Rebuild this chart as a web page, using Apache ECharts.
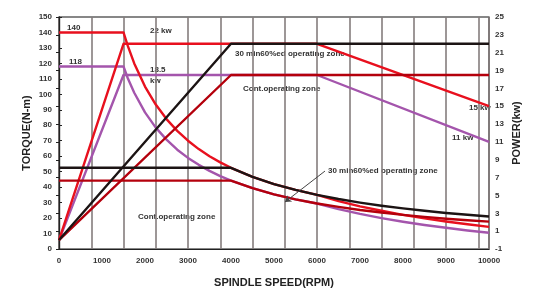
<!DOCTYPE html>
<html><head><meta charset="utf-8">
<script src="https://cdn.jsdelivr.net/npm/echarts@6/dist/echarts.min.js"></script>
<style>html,body{margin:0;padding:0;background:#fff}#c{width:548px;height:290px}</style>
</head><body><div id="c"></div>
<script>
// Speed (rpm) tick labels
var xTicks = [0,1000,2000,3000,4000,5000,6000,7000,8000,9000,10000];
// Torque curves (N-m) : [rpm, torque]
var torqueS6_22 = [[0,140],[1500,140],[1600,131.3],[1750,120],[2000,105],[2250,93.4],[2500,84],[2750,76.4],[3000,70],[3250,64.6],[3500,60],[3750,56],[4000,52.5],[4500,46.7],[5000,42],[5500,38.2],[6000,35],[6500,31],[7000,27.6],[7500,24.7],[8000,22.1],[8500,19.8],[9000,17.8],[9500,16],[10000,14.3]];
var torqueS1_185 = [[0,118],[1500,118],[1600,110.4],[1750,101],[2000,88.3],[2250,78.5],[2500,70.7],[2750,64.2],[3000,58.9],[3250,54.4],[3500,50.5],[3750,47.1],[4000,44.2],[4500,39.3],[5000,35.3],[5500,32.1],[6000,29.4],[6500,25.8],[7000,22.7],[7500,20],[8000,17.6],[8500,15.5],[9000,13.7],[9500,12],[10000,10.5]];
var torqueHigh_22 = [[0,52.5],[4000,52.5],[4500,46.7],[5000,42],[5500,38.2],[6000,35],[6500,32.3],[7000,30],[7500,28],[8000,26.3],[8500,24.7],[9000,23.3],[9500,22.1],[10000,21]];
var torqueHigh_185 = [[0,44.2],[4000,44.2],[4500,39.3],[5000,35.3],[5500,32.1],[6000,29.4],[6500,27.2],[7000,25.2],[7500,23.6],[8000,22.1],[8500,20.8],[9000,19.6],[9500,18.6],[10000,17.7]];
// Power curves (kW) : [rpm, power]
var powerS6_22 = [[0,0],[1500,22],[6000,22],[10000,15]];
var powerS1_185 = [[0,0],[1500,18.5],[6000,18.5],[10000,11]];
var powerHigh_22 = [[0,0],[4000,22],[10000,22]];
var powerHigh_185 = [[0,0],[4000,18.5],[10000,18.5]];
// annotation arrow (rpm, torque)
var arrowFrom = [6186,50.4], arrowTo = [5256,30.4];

var RED='#e8101e', PURPLE='#a455ac', BLACK='#1c1414', DRED='#b4000c';
var FONT='Liberation Sans';
var lw=2.4;
function line(name,data,color,yIdx,extra){
  var s={name:name,type:'line',data:data,xAxisIndex:0,yAxisIndex:yIdx,symbol:'none',smooth:false,
    lineStyle:{color:color,width:lw,join:'round'},itemStyle:{color:color},silent:true,animation:false};
  if(extra) for(var k in extra) s[k]=extra[k];
  return s;
}
var tl={fontFamily:FONT,fontWeight:'bold',fontSize:8,color:'#333'};
var nameStyle={fontFamily:FONT,fontWeight:'bold',fontSize:11,color:'#222'};
function txt(x,y,s){return {type:'text',left:x,top:y,style:{text:s,font:'bold 8px "'+FONT+'"',fill:'#333'}};}
var chart=echarts.init(document.getElementById('c'));
chart.setOption({
  animation:false,
  grid:{left:59,right:59,top:17,bottom:41,show:true,borderColor:'#111',borderWidth:1.2,outerBoundsMode:'none',containLabel:false},
  xAxis:[{type:'value',min:0,max:10000,interval:1000,
      name:'SPINDLE SPEED(RPM)',nameLocation:'middle',nameGap:28,nameTextStyle:nameStyle,
      axisLine:{show:true,lineStyle:{color:'#222',width:1.2}},axisTick:{show:false},
      axisLabel:Object.assign({margin:8,formatter:function(v){return String(v);}},tl),splitLine:{show:false}},
    {type:'value',min:0,max:10000,interval:750,position:'bottom',
      axisLine:{show:false},axisTick:{show:false},axisLabel:{show:false},
      splitLine:{show:true,lineStyle:{color:'#857d7d',width:1.6}}}],
  yAxis:[{type:'value',min:0,max:150,interval:10,
      name:'TORQUE(N-m)',nameLocation:'middle',nameGap:27,nameRotate:90,nameMoveOverlap:false,nameTextStyle:nameStyle,
      axisLine:{show:true,lineStyle:{color:'#222',width:1.2}},
      axisTick:{show:true,inside:true,length:3,lineStyle:{color:'#222'}},
      axisLabel:Object.assign({margin:7},tl),splitLine:{show:false}},
    {type:'value',min:-1,max:25,interval:2,position:'right',
      name:'POWER(kw)',nameLocation:'middle',nameGap:22,nameRotate:90,nameMoveOverlap:false,nameTextStyle:nameStyle,
      axisLine:{show:true,lineStyle:{color:'#222',width:1.2}},
      axisTick:{show:true,inside:true,length:3,lineStyle:{color:'#222'}},
      axisLabel:Object.assign({margin:6},tl),splitLine:{show:false}}],
  series:[
    line('p185',powerS1_185,PURPLE,1),
    line('t185',torqueS1_185,PURPLE,0),
    line('p22',powerS6_22,RED,1),
    line('t22',torqueS6_22,RED,0),
    line('ph185',powerHigh_185,DRED,1),
    line('th185',torqueHigh_185,DRED,0),
    line('ph22',powerHigh_22,BLACK,1),
    line('th22',torqueHigh_22,BLACK,0,{markLine:{silent:true,symbol:['none','arrow'],symbolSize:6,
      label:{show:false},lineStyle:{color:'#444',width:1,type:'solid'},
      data:[[{coord:arrowFrom},{coord:arrowTo}]]}})
  ],
  graphic:[
    txt(67,24,'140'),
    txt(69,58,'118'),
    txt(150,27,'22 kw'),
    txt(150,66,'18.5'),
    txt(150,77,'kw'),
    txt(235,50,'30 min60%ed operating zone'),
    txt(243,85,'Cont.operating zone'),
    txt(328,167,'30 min60%ed operating zone'),
    txt(138,213,'Cont.operating zone'),
    txt(469,104,'15 kw'),
    txt(452,134,'11 kw')
  ]
});
</script></body></html>
